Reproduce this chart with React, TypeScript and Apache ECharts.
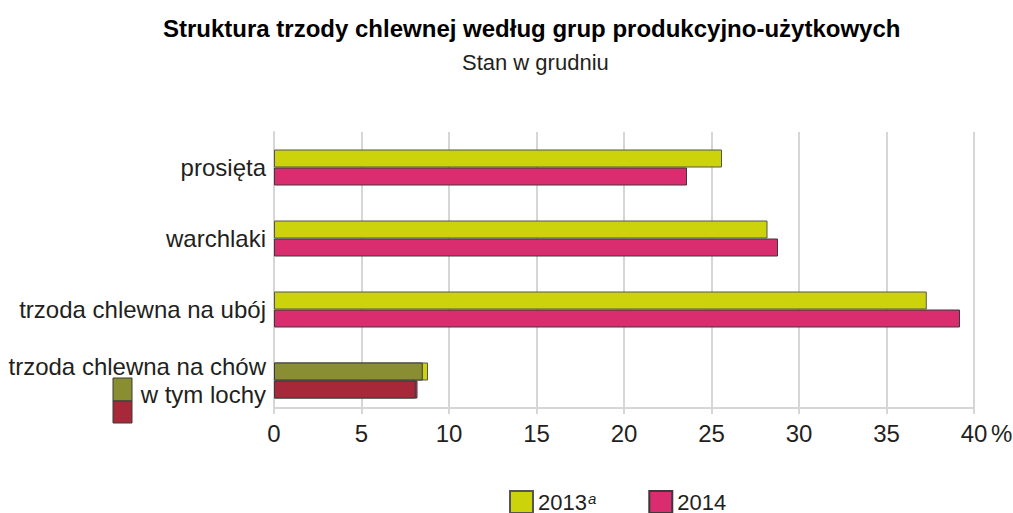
import React, { useEffect, useRef } from "react";
import * as echarts from "echarts";

const categories = ["prosięta", "warchlaki", "trzoda chlewna na ubój", "trzoda chlewna na chów"];
const subLabel = "w tym lochy";
const values2013 = [25.6, 28.2, 37.3, 8.8];
const values2014 = [23.6, 28.8, 39.2, 8.2];
const sows2013 = ["-", "-", "-", 8.5];
const sows2014 = ["-", "-", "-", 8.1];
const xTicks = { min: 0, max: 40, interval: 5 };
const seriesNames = ["2013", "2014"];

const FONT = "'Liberation Sans', Arial, sans-serif";
const TEXT = "#231f20";
const GRID = "#d6d6d6";
const C2013 = "#ccd30a";
const C2014 = "#d92d6f";
const CSOW13 = "#8a8e33";
const CSOW14 = "#a72838";

export default function App() {
  const ref = useRef<HTMLDivElement>(null);
  useEffect(() => {
    if (!ref.current) return;
    const chart = echarts.init(ref.current, undefined, { renderer: "svg" });
    const barCommon = { barWidth: 18, barGap: "0%", barCategoryGap: "0%" };
    chart.setOption({
      animation: false,
      textStyle: { fontFamily: FONT, color: TEXT },
      title: [
        {
          text: "Struktura trzody chlewnej według grup produkcyjno-użytkowych",
          left: 158,
          top: 11,
          textStyle: { fontSize: 24, fontWeight: "bold", color: "#000", fontFamily: FONT },
        },
        {
          text: "Stan w grudniu",
          left: 457,
          top: 46,
          textStyle: { fontSize: 22, fontWeight: "normal", color: TEXT, fontFamily: FONT },
        },
      ],
      legend: {
        data: seriesNames,
        left: 509,
        top: 490,
        padding: 0,
        itemWidth: 23,
        itemHeight: 22,
        itemGap: 52,
        icon: "rect",
        selectedMode: false,
        formatter: (name: string) => (name === "2013" ? "2013{sup|a}" : name),
        textStyle: {
          fontSize: 22,
          lineHeight: 22,
          color: TEXT,
          fontFamily: FONT,
          rich: {
            sup: { fontSize: 15, fontStyle: "italic", verticalAlign: "top", padding: [0, 0, 0, 1], fontFamily: FONT, color: TEXT },
          },
        },
      },
      grid: [
        { left: 274, right: 39, top: 132, bottom: 97 },
        { left: 274, right: 39, top: 132, bottom: 105 },
      ],
      xAxis: [
        {
          gridIndex: 0,
          type: "value",
          ...xTicks,
          axisLine: { show: false },
          axisTick: { show: false },
          axisLabel: { show: false },
          splitLine: { show: false },
        },
        {
          gridIndex: 1,
          type: "value",
          ...xTicks,
          axisLine: { show: true, lineStyle: { color: GRID, width: 2 } },
          axisTick: { show: true, length: 6, lineStyle: { color: GRID, width: 2 } },
          axisLabel: { fontSize: 24, color: TEXT, margin: 13, fontFamily: FONT },
          splitLine: { show: true, lineStyle: { color: GRID, width: 2 } },
        },
      ],
      yAxis: [
        {
          gridIndex: 0,
          type: "category",
          inverse: true,
          data: categories,
          axisLine: { show: false },
          axisTick: { show: false },
          axisLabel: {
            fontSize: 24,
            color: TEXT,
            margin: 8,
            fontFamily: FONT,
            lineHeight: 28,
            formatter: (v: string, i: number) => (i === categories.length - 1 ? v + "\n" + subLabel : v),
          },
        },
        {
          gridIndex: 0,
          type: "category",
          inverse: true,
          data: categories,
          show: false,
        },
        {
          gridIndex: 1,
          type: "value",
          min: 0,
          max: 1,
          axisLine: { show: true, lineStyle: { color: GRID, width: 2 } },
          axisTick: { show: false },
          axisLabel: { show: false },
          splitLine: { show: false },
        },
      ],
      series: [
        {
          name: "2013",
          type: "bar",
          xAxisIndex: 0,
          yAxisIndex: 0,
          data: values2013,
          ...barCommon,
          itemStyle: { color: C2013, borderColor: "#555", borderWidth: 1 },
          z: 3,
        },
        {
          name: "2014",
          type: "bar",
          xAxisIndex: 0,
          yAxisIndex: 0,
          data: values2014,
          ...barCommon,
          itemStyle: { color: C2014, borderColor: "#3a3a3a", borderWidth: 1 },
          z: 3,
        },
        {
          name: "lochy 2013",
          type: "bar",
          xAxisIndex: 0,
          yAxisIndex: 1,
          data: sows2013,
          ...barCommon,
          itemStyle: { color: CSOW13, borderColor: "#3a3a3a", borderWidth: 1 },
          z: 4,
        },
        {
          name: "lochy 2014",
          type: "bar",
          xAxisIndex: 0,
          yAxisIndex: 1,
          data: sows2014,
          ...barCommon,
          itemStyle: { color: CSOW14, borderColor: "#3a3a3a", borderWidth: 1 },
          z: 4,
        },
      ],
      graphic: [
        {
          type: "rect",
          shape: { x: 113, y: 378, width: 19, height: 23 },
          style: { fill: CSOW13, stroke: "#3a3a3a", lineWidth: 1 },
        },
        {
          type: "rect",
          shape: { x: 113, y: 401, width: 19, height: 22 },
          style: { fill: CSOW14, stroke: "#3a3a3a", lineWidth: 1 },
        },
        {
          type: "text",
          x: 991,
          y: 433,
          style: { text: "%", fontSize: 24, fill: TEXT, fontFamily: FONT, verticalAlign: "middle", align: "left" },
        },
      ],
    });
    return () => chart.dispose();
  }, []);
  return <div ref={ref} style={{ width: 1013, height: 513, position: "absolute", left: 0, top: 0 }} />;
}
